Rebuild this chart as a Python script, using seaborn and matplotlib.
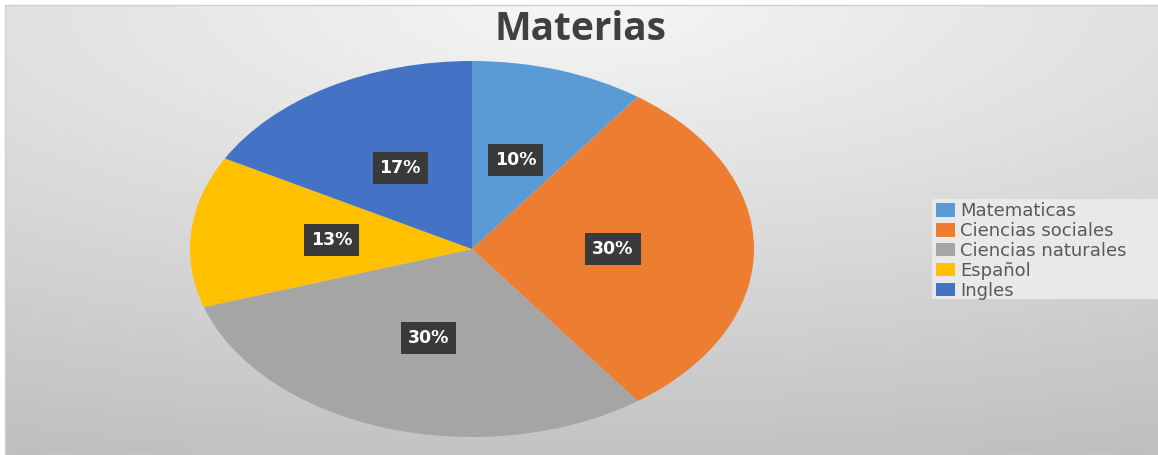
import numpy as np
import matplotlib
matplotlib.use("Agg")
import matplotlib.pyplot as plt
import seaborn as sns
from matplotlib.patches import Rectangle

categories = ["Matematicas", "Ciencias sociales", "Ciencias naturales", "Español", "Ingles"]
values = [10, 30, 30, 13, 17]
colors = ["#5B9BD5", "#ED7D31", "#A5A5A5", "#FFC000", "#4472C4"]
title = "Materias"

sns.set_theme(style="white")
plt.rcParams["font.family"] = ["Open Sans", "DejaVu Sans"]
palette = sns.color_palette(colors)

W, H = 1158, 455
fig = plt.figure(figsize=(W / 100, H / 100), dpi=100)
fig.patch.set_facecolor("white")

# background radial gradient (chart area)
bg = fig.add_axes([5 / W, 0, 1 - 5 / W, 1 - 5 / H], zorder=0)
yy, xx = np.mgrid[0:450, 0:1153]
d = np.sqrt(((xx - 575) / 1400.0) ** 2 + (yy / 455.0) ** 2)
g = np.clip(246 - 52 * d, 0, 255) / 255.0
bg.imshow(np.dstack([g, g, g]), aspect="auto", extent=(0, 1, 0, 1), origin="upper")
bg.set_axis_off()
fig.add_artist(Rectangle((4.5 / W, 0), 1, 1 - 4.5 / H, transform=fig.transFigure,
                         fill=False, edgecolor="#d0d0d0", lw=1, zorder=1))

# light legend backdrop
fig.add_artist(Rectangle((932 / W, (H - 299) / H), (W - 932) / W, 100 / H,
                         transform=fig.transFigure, facecolor="#e9e9e9",
                         edgecolor="none", zorder=1))

ax = fig.add_axes([190 / W, (H - 437) / H, 564 / W, 376 / H], zorder=2)
wedges, texts, autotexts = ax.pie(
    values, colors=palette, startangle=90, counterclock=False,
    autopct=lambda p: f"{p:.0f}%", pctdistance=0.5,
    wedgeprops=dict(linewidth=0),
    textprops=dict(color="white", fontsize=12.5, fontweight="bold",
                   family=["DejaVu Sans"]),
)
for t in autotexts:
    t.set_bbox(dict(boxstyle="square,pad=0.4", facecolor="#3a3a3a", edgecolor="none"))
ax.set_aspect("auto")
ax.set_xlim(-1, 1)
ax.set_ylim(-1, 1)
ax.set_axis_off()

fig.text(580 / W, 1 - 29 / H, title, ha="center", va="center",
         fontsize=28, fontweight="bold", color="#404040")

leg = fig.legend(wedges, categories, loc="center left",
                 bbox_to_anchor=(936 / W, (H - 251) / H), frameon=False,
                 prop=dict(family=["DejaVu Sans"], size=13),
                 labelcolor="#595959", handlelength=1.05,
                 handleheight=0.75, handletextpad=0.3, labelspacing=0.1,
                 borderpad=0, borderaxespad=0)
leg.set_zorder(5)

fig.savefig("out.png", dpi=100, facecolor=fig.get_facecolor())
